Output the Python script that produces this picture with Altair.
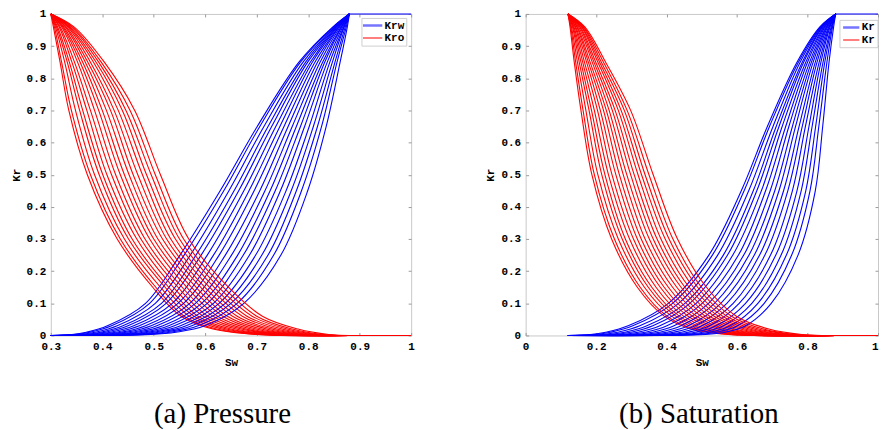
import altair as alt
import pandas as pd

# ---------------- data ----------------
# Each curve is given by the Sw value at which it reaches fixed Kr levels.
KRW_LEVELS = [0.003, 0.01, 0.03, 0.10, 0.25, 0.45, 0.65, 0.85, 0.96]
KRO_LEVELS = [0.96, 0.85, 0.70, 0.50, 0.30, 0.15, 0.06, 0.02, 0.003]
FAMILIES = ["Krw", "Kro"]
FAMILY_COLORS = ["#0000ff", "#ff0000"]
LEGEND_LABELS = ["Krw", "Kro"]
CAPTIONS = ["(a) Pressure", "(b) Saturation"]

Y_TICKS = [0.0, 0.1, 0.2, 0.3, 0.4, 0.5, 0.6, 0.7, 0.8, 0.9, 1.0]

# panel (a) Pressure
A_SW_DOMAIN = [0.3, 1.0]
A_X_TICKS = [0.3, 0.4, 0.5, 0.6, 0.7, 0.8, 0.9, 1.0]
A_SWC = 0.30
A_SWMAX = 0.88
A_KRW = [
    [.341, .369, .410, .484, .551, .629, .701, .782, .848],
    [.347, .376, .418, .492, .559, .636, .706, .785, .849],
    [.356, .386, .429, .503, .571, .646, .714, .790, .851],
    [.366, .397, .440, .515, .582, .656, .722, .795, .852],
    [.373, .406, .450, .524, .592, .665, .729, .799, .854],
    [.382, .416, .461, .536, .604, .675, .737, .804, .855],
    [.392, .426, .472, .547, .616, .685, .745, .808, .857],
    [.401, .437, .484, .558, .627, .695, .753, .813, .859],
    [.410, .447, .495, .570, .639, .706, .761, .818, .860],
    [.419, .458, .506, .581, .651, .716, .769, .823, .862],
    [.428, .468, .518, .593, .663, .726, .777, .828, .864],
    [.437, .479, .529, .604, .674, .736, .785, .832, .865],
    [.447, .489, .540, .616, .686, .746, .793, .837, .867],
    [.456, .500, .552, .627, .698, .757, .802, .842, .869],
    [.465, .510, .563, .639, .710, .767, .810, .847, .870],
    [.474, .520, .574, .650, .722, .777, .818, .852, .872],
    [.483, .531, .586, .662, .733, .787, .826, .856, .874],
    [.494, .543, .599, .675, .747, .799, .835, .862, .876],
]
A_KRO = [
    [.305, .318, .335, .371, .429, .498, .553, .615, .699],
    [.307, .321, .340, .377, .435, .504, .559, .622, .705],
    [.309, .327, .348, .385, .443, .513, .569, .632, .713],
    [.311, .332, .356, .394, .451, .522, .578, .641, .722],
    [.313, .336, .362, .401, .458, .529, .586, .650, .729],
    [.316, .341, .370, .409, .467, .538, .596, .660, .737],
    [.318, .346, .377, .418, .475, .547, .605, .670, .746],
    [.321, .352, .385, .426, .483, .555, .615, .679, .754],
    [.323, .357, .393, .435, .492, .564, .624, .689, .763],
    [.325, .362, .400, .443, .500, .573, .634, .699, .771],
    [.328, .367, .408, .452, .508, .582, .643, .709, .779],
    [.330, .372, .416, .460, .517, .591, .653, .719, .788],
    [.333, .377, .423, .469, .525, .599, .662, .729, .796],
    [.335, .383, .431, .478, .533, .608, .672, .739, .805],
    [.337, .388, .439, .486, .542, .617, .681, .749, .813],
    [.340, .393, .446, .495, .550, .626, .691, .759, .822],
    [.342, .398, .454, .503, .558, .635, .700, .769, .830],
    [.345, .404, .463, .513, .568, .645, .711, .780, .840],
]

# panel (b) Saturation
B_SW_DOMAIN = [0.0, 1.0]
B_X_TICKS = [0.0, 0.2, 0.4, 0.6, 0.8, 1.0]
B_SWC = 0.12
B_SWMAX = 0.88
B_KRW = [
    [.184, .227, .291, .405, .520, .612, .686, .770, .835],
    [.197, .241, .304, .417, .530, .620, .692, .774, .837],
    [.217, .261, .324, .434, .545, .633, .702, .779, .839],
    [.236, .281, .344, .452, .561, .646, .711, .785, .841],
    [.253, .298, .361, .466, .573, .656, .719, .789, .843],
    [.272, .319, .381, .484, .588, .669, .728, .795, .846],
    [.292, .339, .401, .501, .604, .681, .738, .800, .848],
    [.311, .359, .421, .519, .619, .694, .747, .806, .850],
    [.331, .380, .441, .536, .634, .707, .757, .811, .853],
    [.350, .400, .461, .554, .649, .719, .766, .816, .855],
    [.370, .420, .481, .571, .664, .732, .776, .822, .857],
    [.389, .441, .501, .589, .679, .744, .785, .827, .860],
    [.409, .461, .521, .606, .695, .757, .794, .833, .862],
    [.429, .481, .541, .624, .710, .770, .804, .838, .864],
    [.448, .502, .561, .642, .725, .782, .813, .844, .867],
    [.468, .522, .581, .659, .740, .795, .823, .849, .869],
    [.487, .542, .601, .677, .755, .807, .832, .855, .871],
    [.510, .566, .624, .697, .773, .822, .843, .861, .874],
]
B_KRO = [
    [.126, .138, .157, .188, .244, .317, .393, .470, .575],
    [.128, .142, .163, .195, .252, .325, .401, .479, .583],
    [.130, .147, .171, .205, .263, .337, .414, .492, .596],
    [.133, .152, .180, .216, .274, .348, .426, .505, .608],
    [.135, .157, .187, .225, .283, .358, .436, .516, .619],
    [.137, .162, .195, .235, .295, .370, .448, .529, .631],
    [.140, .167, .204, .245, .306, .382, .461, .543, .644],
    [.142, .173, .212, .256, .317, .393, .473, .556, .657],
    [.145, .178, .221, .266, .328, .405, .485, .569, .669],
    [.147, .183, .229, .277, .339, .417, .498, .582, .682],
    [.150, .189, .237, .287, .351, .429, .510, .595, .694],
    [.153, .194, .246, .298, .362, .441, .522, .609, .707],
    [.155, .199, .254, .308, .373, .452, .535, .622, .719],
    [.158, .205, .263, .319, .384, .464, .547, .635, .732],
    [.160, .210, .271, .329, .396, .476, .559, .648, .744],
    [.163, .215, .280, .339, .407, .488, .571, .661, .757],
    [.165, .221, .288, .350, .418, .499, .584, .675, .769],
    [.168, .227, .298, .362, .431, .513, .598, .690, .784],
]

# legend placement inside each plot (style, in axis units)
A_LEGEND = {"box": (0.9044, 0.9915, 0.986, 0.900), "line": (0.9064, 0.9439),
            "text": 0.9483, "rows": (0.964, 0.925), "limit": 0}
B_LEGEND = {"box": (0.892, 1.0, 0.980, 0.895), "line": (0.901, 0.947),
            "text": 0.954, "rows": (0.958, 0.919), "limit": 16}

# ---------------- styles ----------------
MONO = "Liberation Mono"
SERIF = "Liberation Serif"
FRAME = "#c9c9c9"
TICK = "#9a9a9a"


def curve_table(swc, swmax, krw_rows, kro_rows):
    recs = []
    for i, (w, o) in enumerate(zip(krw_rows, kro_rows)):
        wpts = [(swc, 0.0)] + list(zip(w, KRW_LEVELS)) + [(swmax, 1.0)]
        opts = [(swc, 1.0)] + list(zip(o, KRO_LEVELS)) + [(swmax, 0.0)]
        for fam, pts in (("Krw", wpts), ("Kro", opts)):
            for k, (s, kr) in enumerate(pts):
                recs.append({"curve": f"{fam}{i}", "family": fam, "Sw": s, "Kr": kr, "k": k})
    # flat end segments shared by all curves
    for k, s in enumerate([swmax, 1.0]):
        recs.append({"curve": "Krw_end", "family": "Krw", "Sw": s, "Kr": 1.0, "k": k})
        recs.append({"curve": "Kro_end", "family": "Kro", "Sw": s, "Kr": 0.0, "k": k})
    return pd.DataFrame(recs)


def tick_axis(orient, values):
    return alt.Axis(orient=orient, values=values, labels=False, domain=False,
                    ticks=True, tickSize=3, tickColor=TICK, tickWidth=1,
                    offset=-3, title=None, grid=False)


def panel(df, domain, xticks, leg, caption, width, dx, last_right=False):
    xs = alt.Scale(domain=domain, nice=False, zero=False)
    ys = alt.Scale(domain=[0, 1], nice=False, zero=False)
    label_align = {"condition": {"test": "datum.value === 1", "value": "right"},
                   "value": "center"} if last_right else "center"
    x_main = alt.Axis(values=xticks, format="~g", title="Sw", ticks=False, tickSize=0,
                      domain=False, grid=False, labelPadding=5, titlePadding=5,
                      labelAlign=label_align)
    y_main = alt.Axis(values=Y_TICKS, format="~g", title="Kr", ticks=False, tickSize=0,
                      domain=False, grid=False, labelPadding=5, titlePadding=5)

    lines = alt.Chart(df).mark_line(interpolate="catmull-rom", strokeWidth=1.1).encode(
        x=alt.X("Sw:Q", scale=xs, axis=x_main),
        y=alt.Y("Kr:Q", scale=ys, axis=y_main),
        color=alt.Color("family:N", scale=alt.Scale(domain=FAMILIES, range=FAMILY_COLORS),
                        legend=None),
        detail="curve:N",
        order="k:Q",
    )

    bx0, bx1, by0, by1 = leg["box"]
    box_df = pd.DataFrame({"Sw": [bx0], "Sw2": [bx1], "Kr": [by0], "Kr2": [by1]})
    box = alt.Chart(box_df).mark_rect(fill="white", stroke="#cfcfcf", strokeWidth=1,
                                      clip=True).encode(
        x=alt.X("Sw:Q", scale=xs, axis=tick_axis("top", xticks)),
        x2="Sw2:Q",
        y=alt.Y("Kr:Q", scale=ys, axis=tick_axis("right", Y_TICKS)),
        y2="Kr2:Q",
    )

    sym_df = pd.DataFrame({"Sw": [leg["line"][0]] * 2, "Sw2": [leg["line"][1]] * 2,
                           "Kr": list(leg["rows"]), "label": LEGEND_LABELS,
                           "col": ["#7575ff", "#ff0000"], "w": [2.6, 1.1]})
    sym = alt.Chart(sym_df).mark_rule(clip=True).encode(
        x=alt.X("Sw:Q", scale=xs, axis=tick_axis("bottom", xticks)),
        x2="Sw2:Q",
        y=alt.Y("Kr:Q", scale=ys, axis=tick_axis("left", Y_TICKS)),
        color=alt.Color("col:N", scale=None, legend=None),
        strokeWidth=alt.StrokeWidth("w:Q", scale=None, legend=None),
    )

    txt_df = pd.DataFrame({"Sw": [leg["text"]] * 2, "Kr": list(leg["rows"]),
                           "label": LEGEND_LABELS})
    txt_kw = dict(align="left", baseline="middle", font=MONO, fontWeight="bold",
                  fontSize=11, color="black", clip=True)
    if leg["limit"]:
        txt_kw.update(limit=leg["limit"], ellipsis="\u200b")
    txt = alt.Chart(txt_df).mark_text(**txt_kw).encode(
        x=alt.X("Sw:Q", scale=xs, axis=None),
        y=alt.Y("Kr:Q", scale=ys, axis=None),
        text="label:N",
    )

    return alt.layer(lines, box, sym, txt).resolve_axis(
        x="independent", y="independent"
    ).properties(
        width=width,
        height=323,
        title=alt.TitleParams(text=caption, orient="bottom", anchor="middle", frame="group",
                              font=SERIF, fontSize=29, fontWeight="normal", color="black",
                              offset=33, dx=dx),
    )


a = panel(curve_table(A_SWC, A_SWMAX, A_KRW, A_KRO), A_SW_DOMAIN, A_X_TICKS, A_LEGEND,
          CAPTIONS[0], width=362, dx=-8.5)
b = panel(curve_table(B_SWC, B_SWMAX, B_KRW, B_KRO), B_SW_DOMAIN, B_X_TICKS, B_LEGEND,
          CAPTIONS[1], width=354, dx=-3, last_right=True)

chart = alt.hconcat(a, b, spacing=69).properties(
    padding={"left": 1, "top": -2, "right": 0, "bottom": 0},
    background="white",
).configure_view(
    stroke=FRAME, strokeWidth=1
).configure_axis(
    labelFont=MONO, labelFontWeight="bold", labelFontSize=11, labelColor="black",
    titleFont=MONO, titleFontWeight="bold", titleFontSize=11, titleColor="black",
)

chart.save("out.html", embed_options={"renderer": "svg", "actions": False})
